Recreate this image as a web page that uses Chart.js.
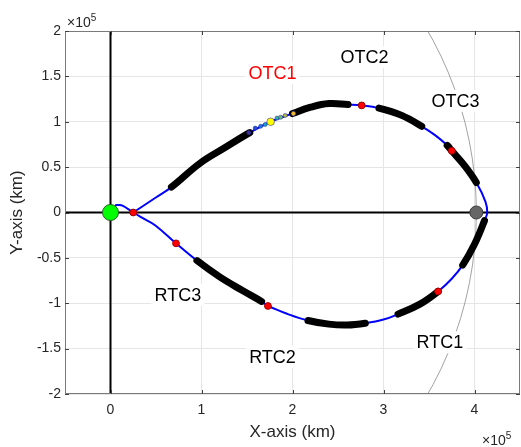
<!DOCTYPE html>
<html>
<head>
<meta charset="utf-8">
<script src="https://cdn.jsdelivr.net/npm/chart.js@4.4.0/dist/chart.umd.min.js"></script>
<style>
  html, body { margin: 0; padding: 0; background: #fff; }
</style>
</head>
<body>
<canvas id="myChart" width="521" height="447"></canvas>
<script>
const FONT = "'Liberation Sans', Arial, Helvetica, sans-serif";

// transfer trajectory, km (Earth -> lower arc -> Moon -> upper arc -> back)
const trajX = [5000, 12000, 19000, 25000, 37000, 49000, 72000, 95000, 120000, 145000,
  166000, 173000, 195000, 217000, 240000, 260000, 280000, 300000, 316000, 340000,
  360000, 375000, 387000, 400000, 411000, 414000, 412000, 402000, 388000, 375000,
  370000, 357000, 342000, 320000, 295000, 276000, 261000, 240000, 220000, 200000,
  176000, 153000, 125000, 98000, 67000, 49000, 25000];
const trajY = [8000, 8000, 4000, 0, -7000, -14000, -34000, -53000, -71000, -86000,
  -98000, -103000, -112000, -119000, -123000, -124000, -122000, -118000, -112000, -101000,
  -87000, -73000, -58000, -35000, -9000, 0, 12000, 33000, 53000, 68000,
  74000, 85000, 95000, 107000, 115000, 118000, 119000, 120000, 116000, 109000,
  100000, 88000, 71000, 54000, 28000, 16000, 0];

// index ranges of the trajectory drawn as thick black arcs
const burnArcs = [[7, 10], [13, 16], [18, 20], [22, 24], [27, 30], [32, 34], [36, 39], [41, 44]];

// red markers
const redX = [25000, 72000, 173000, 360000, 375000, 276000];
const redY = [0, -34000, -103000, -87000, 68000, 118000];

// probe positions along OTC1
const probeX = [152000, 159000, 165000, 170000, 176000, 183000, 187000, 192000, 201000];
const probeY = [88000, 93000, 95000, 97000, 100000, 104000, 105000, 107000, 109000];
const probeColors = ['#3b2fa0', '#2350d8', '#1a78e0', '#14a0d0', '#ffff00', '#2fbfa0', '#6cc36c', '#b4bf40', '#f2b830'];
const probeSizes = [2, 2, 2, 2, 3.8, 2, 2, 2, 2.3];

const earthX = [0], earthY = [0];
const moonX = [402000], moonY = [0];
const moonOrbitRadius = 402000;

const xTicks = [0, 100000, 200000, 300000, 400000];
const yTicks = [-200000, -150000, -100000, -50000, 0, 50000, 100000, 150000, 200000];

const annotations = [
  { text: 'OTC1', x: 178000, y: 154000, color: '#ff0000' },
  { text: 'OTC2', x: 279000, y: 171000, color: '#000000' },
  { text: 'OTC3', x: 379000, y: 123000, color: '#000000' },
  { text: 'RTC1', x: 362000, y: -143000, color: '#000000' },
  { text: 'RTC2', x: 178000, y: -159000, color: '#000000' },
  { text: 'RTC3', x: 74000, y: -91000, color: '#000000' },
];

const pts = (xs, ys) => xs.map((x, i) => ({ x: x, y: ys[i] }));
const isBurn = i => burnArcs.some(([a, b]) => i >= a && i < b);

const extras = {
  id: 'extras',
  beforeDatasetsDraw(chart) {
    const { ctx, chartArea: a, scales: { x, y } } = chart;
    const cx = x.getPixelForValue(0), cy = y.getPixelForValue(0);
    const rx = x.getPixelForValue(moonOrbitRadius) - cx;
    const ry = cy - y.getPixelForValue(moonOrbitRadius);
    ctx.save();
    ctx.beginPath();
    ctx.rect(a.left, a.top, a.right - a.left, a.bottom - a.top);
    ctx.clip();
    ctx.beginPath();
    ctx.ellipse(cx, cy, rx, ry, 0, 0, Math.PI * 2);
    ctx.strokeStyle = '#8a8a8a';
    ctx.lineWidth = 0.8;
    ctx.stroke();
    ctx.restore();
  },
  afterDatasetsDraw(chart) {
    const { ctx, scales: { x, y } } = chart;
    ctx.save();
    ctx.font = '18px ' + FONT;
    ctx.textAlign = 'center';
    ctx.textBaseline = 'middle';
    annotations.forEach(l => {
      const px = x.getPixelForValue(l.x), py = y.getPixelForValue(l.y);
      const w = ctx.measureText(l.text).width;
      ctx.fillStyle = '#ffffff';
      ctx.fillRect(px - w / 2 - 3, py - 11, w + 6, 22);
      ctx.fillStyle = l.color;
      ctx.fillText(l.text, px, py + 1);
    });
    ctx.restore();
  },
  afterDraw(chart) {
    const { ctx, chartArea: a, scales: { x, y } } = chart;
    ctx.save();
    // box + inward ticks
    ctx.strokeStyle = '#7a7a7a';
    ctx.lineWidth = 1;
    ctx.strokeRect(a.left + 0.5, a.top + 0.5, a.right - a.left - 1, a.bottom - a.top - 1);
    ctx.strokeStyle = '#404040';
    ctx.beginPath();
    xTicks.forEach(v => {
      const px = Math.round(x.getPixelForValue(v)) + 0.5;
      ctx.moveTo(px, a.bottom); ctx.lineTo(px, a.bottom - 4);
      ctx.moveTo(px, a.top); ctx.lineTo(px, a.top + 4);
    });
    yTicks.forEach(v => {
      const py = Math.round(y.getPixelForValue(v)) + 0.5;
      ctx.moveTo(a.left, py); ctx.lineTo(a.left + 4, py);
      ctx.moveTo(a.right, py); ctx.lineTo(a.right - 4, py);
    });
    ctx.stroke();
    // exponent labels
    ctx.fillStyle = '#262626';
    ctx.textBaseline = 'alphabetic';
    ctx.textAlign = 'left';
    const expo = (px, py) => {
      ctx.font = '14px ' + FONT;
      ctx.fillText('\u00d710', px, py);
      const w = ctx.measureText('\u00d710').width;
      ctx.font = '10px ' + FONT;
      ctx.fillText('5', px + w, py - 6);
    };
    expo(a.left + 2, a.top - 4);
    expo(a.right - 38, 445);
    ctx.restore();
  }
};

new Chart(document.getElementById('myChart'), {
  type: 'scatter',
  data: {
    datasets: [
      {
        label: 'Earth',
        data: pts(earthX, earthY),
        pointRadius: 8,
        pointBackgroundColor: '#00ff00',
        pointBorderColor: '#2a5a2a',
        pointBorderWidth: 1,
        order: 1,
      },
      {
        label: 'Moon',
        data: pts(moonX, moonY),
        pointRadius: 6.5,
        pointBackgroundColor: '#666666',
        pointBorderColor: '#3a3a3a',
        pointBorderWidth: 1,
        order: 1,
      },
      {
        label: 'Probe',
        data: pts(probeX, probeY),
        pointRadius: probeSizes,
        pointBackgroundColor: probeColors,
        pointBorderColor: '#333399',
        pointBorderWidth: 0.6,
        order: 2,
      },
      {
        label: 'Events',
        data: pts(redX, redY),
        pointRadius: 3.4,
        pointBackgroundColor: '#ff0000',
        pointBorderColor: '#a00000',
        pointBorderWidth: 1,
        order: 3,
      },
      {
        label: 'Burns',
        data: pts(trajX, trajY),
        showLine: true,
        tension: 0.4,
        pointRadius: 0,
        borderWidth: 7,
        borderCapStyle: 'round',
        borderColor: '#000000',
        segment: {
          borderColor: c => isBurn(c.p0DataIndex) ? '#000000' : 'rgba(0,0,0,0)',
        },
        order: 4,
      },
      {
        label: 'Trajectory',
        data: pts(trajX, trajY),
        showLine: true,
        tension: 0.4,
        pointRadius: 0,
        borderWidth: 2,
        borderColor: '#0000ff',
        order: 5,
      },
      {
        label: 'x-axis line',
        data: [{ x: -50000, y: 0 }, { x: 450000, y: 0 }],
        showLine: true,
        pointRadius: 0,
        borderWidth: 2,
        borderColor: '#000000',
        order: 6,
      },
      {
        label: 'y-axis line',
        data: [{ x: 0, y: -200000 }, { x: 0, y: 200000 }],
        showLine: true,
        pointRadius: 0,
        borderWidth: 2,
        borderColor: '#000000',
        order: 6,
      },
    ],
  },
  options: {
    responsive: false,
    animation: false,
    devicePixelRatio: 1,
    layout: { autoPadding: false, padding: { top: 31, right: 1, left: 0, bottom: 0 } },
    plugins: { legend: { display: false }, tooltip: { enabled: false } },
    scales: {
      x: {
        type: 'linear',
        min: -50000,
        max: 450000,
        afterBuildTicks: s => { s.ticks = xTicks.map(v => ({ value: v })); },
        afterFit: s => { s.height = 53; },
        grid: { color: '#e6e6e6', drawTicks: false },
        border: { display: false },
        ticks: {
          padding: 8,
          color: '#262626',
          font: { family: FONT, size: 14 },
          callback: v => String(v / 100000),
        },
        title: {
          display: true,
          text: 'X-axis (km)',
          color: '#262626',
          font: { family: FONT, size: 17 },
          padding: { top: 0, bottom: 4 },
        },
      },
      y: {
        type: 'linear',
        min: -200000,
        max: 200000,
        afterBuildTicks: s => { s.ticks = yTicks.map(v => ({ value: v })); },
        afterFit: s => { s.width = 65; },
        grid: { color: '#e6e6e6', drawTicks: false },
        border: { display: false },
        ticks: {
          padding: 4,
          color: '#262626',
          font: { family: FONT, size: 14 },
          callback: v => String(v / 100000),
        },
        title: {
          display: true,
          text: 'Y-axis (km)',
          color: '#262626',
          font: { family: FONT, size: 17 },
          padding: { top: 7, bottom: 0 },
        },
      },
    },
  },
  plugins: [extras],
});
</script>
</body>
</html>
